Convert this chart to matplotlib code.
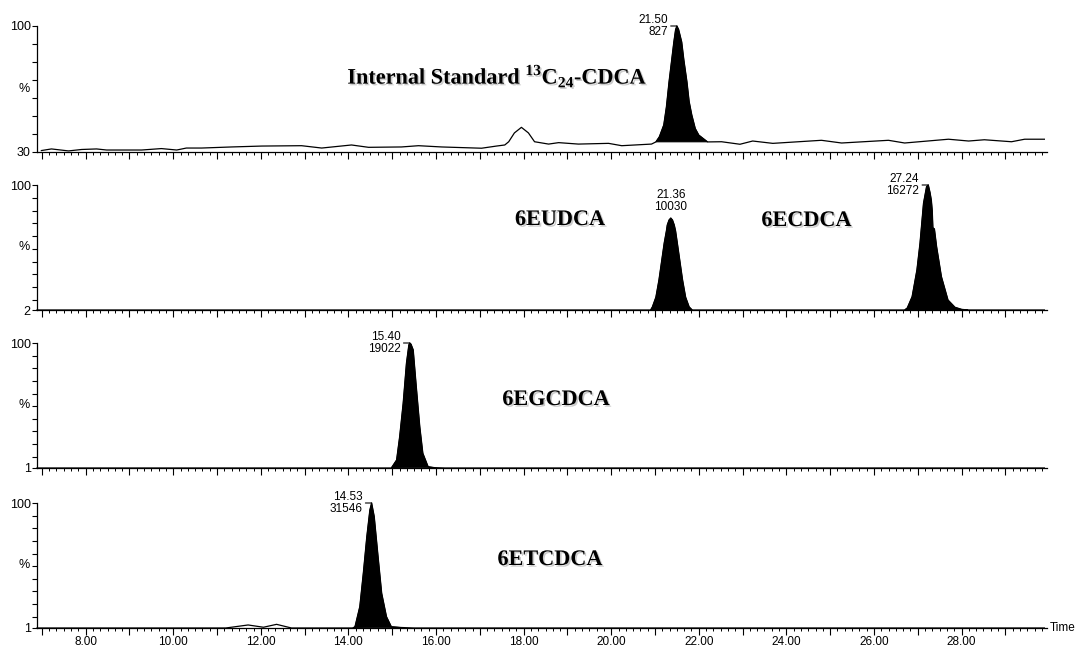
import matplotlib
matplotlib.use("Agg")
import matplotlib.pyplot as plt
import matplotlib.patheffects as pe
import numpy as np
from matplotlib.ticker import MultipleLocator, FixedLocator, FuncFormatter

plt.rcParams["font.family"] = ["Liberation Sans", "DejaVu Sans"]
plt.rcParams["mathtext.fontset"] = "custom"
plt.rcParams["mathtext.rm"] = "Liberation Serif:bold"
plt.rcParams["mathtext.bf"] = "Liberation Serif:bold"

# ---- traces (time in min, intensity in %) ----
is_time = [6.99, 7.22, 7.61, 7.91, 8.25, 8.48, 8.82, 9.28, 9.73, 10.08, 10.30, 10.65,
           11.33, 12.02, 12.93, 13.39, 14.07, 14.46, 15.21, 15.60, 16.13, 17.04, 17.38,
           17.57, 17.66, 17.79, 17.95, 18.11, 18.25, 18.57, 18.80, 19.25, 19.94, 20.24,
           20.92, 21.02, 21.10, 21.20, 21.26, 21.32, 21.38, 21.43, 21.47, 21.50, 21.54,
           21.61, 21.66, 21.73, 21.78, 21.84, 21.92, 22.00, 22.20, 22.52, 22.94, 23.23,
           23.69, 24.80, 25.26, 26.33, 26.70, 27.70, 28.16, 28.52, 29.14, 29.44, 29.89]
is_int = [30.8, 31.7, 30.6, 31.4, 31.7, 31.1, 31.1, 31.1, 31.9, 31.1, 32.2, 32.2,
          32.8, 33.3, 33.5, 32.2, 33.9, 32.6, 32.8, 33.5, 32.8, 32.1, 33.3,
          33.9, 35.7, 40.6, 43.7, 40.6, 35.7, 34.4, 35.2, 34.4, 34.8, 33.5,
          34.4, 35.6, 38.5, 45.0, 55.0, 68.9, 81.0, 91.1, 98.0, 100.0, 98.0,
          91.1, 81.0, 68.9, 58.0, 50.6, 43.0, 39.4, 35.6, 35.7, 34.3, 36.1,
          34.8, 36.5, 35.0, 36.5, 35.0, 37.1, 36.1, 36.8, 35.7, 37.1, 37.1]

eu_time = [6.89, 20.90, 20.94, 21.02, 21.09, 21.15, 21.21, 21.26, 21.28, 21.32, 21.36,
           21.40, 21.44, 21.47, 21.51, 21.57, 21.63, 21.70, 21.78, 21.85,
           26.70, 26.76, 26.87, 26.98, 27.05, 27.13, 27.20, 27.24, 27.28, 27.31, 27.33,
           27.345, 27.38, 27.43, 27.54, 27.69, 27.85, 28.00, 28.15, 29.89]
eu_int = [2.0, 2.0, 4.4, 12.0, 25.5, 40.0, 54.5, 64.0, 68.6, 72.5, 74.1,
          72.5, 68.6, 64.0, 54.5, 40.0, 25.5, 12.0, 4.4, 2.0,
          2.0, 3.6, 12.4, 33.4, 54.3, 85.6, 98.7, 100.0, 94.0, 88.0, 80.0,
          66.5, 65.5, 51.6, 28.1, 9.8, 4.1, 2.5, 2.0, 2.0]

g_time = [6.89, 14.98, 15.10, 15.17, 15.25, 15.325, 15.38, 15.40, 15.43, 15.48, 15.55,
          15.63, 15.70, 15.82, 15.96, 16.20, 29.89]
g_int = [1.0, 1.0, 7.3, 25.8, 52.2, 84.0, 98.4, 100.0, 99.0, 94.5, 65.4,
         33.7, 12.6, 2.0, 1.3, 1.0, 1.0]

t_time = [6.89, 11.20, 11.71, 12.06, 12.36, 12.70, 14.10, 14.15, 14.26, 14.34, 14.42,
          14.49, 14.53, 14.59, 14.67, 14.76, 14.87, 14.98, 15.20, 15.50, 29.89]
t_int = [1.0, 1.0, 3.4, 1.6, 3.9, 1.0, 1.0, 2.0, 17.9, 44.3, 73.3,
         94.5, 100.0, 89.2, 60.2, 28.5, 9.9, 2.0, 1.4, 1.0, 1.0]

# integrated (filled) peak windows
is_fill = [(21.02, 22.20)]
eu_fill = [(20.90, 21.85), (26.70, 28.15)]
g_fill = [(14.98, 15.96)]
t_fill = [(14.10, 15.20)]

# peak labels: time, value, retention-time text, area text, placement
is_peaks = [(21.50, 100.0, "21.50", "827", "left")]
eu_peaks = [(21.36, 74.1, "21.36", "10030", "above"), (27.24, 100.0, "27.24", "16272", "left")]
g_peaks = [(15.40, 100.0, "15.40", "19022", "left")]
t_peaks = [(14.53, 100.0, "14.53", "31546", "left")]

names = [r"Internal Standard $^{\mathrm{13}}\mathrm{C}_{\mathrm{24}}$-CDCA", "6EUDCA", "6EGCDCA", "6ETCDCA"]
y_bottoms = [30, 2, 1, 1]

fig = plt.figure(figsize=(10.79, 6.47), dpi=100)
W, H = 1079.0, 647.0
left, right = 37, 1047
panel_px = [(26, 152), (185, 310), (343, 468), (503, 628)]

panels = [
    (is_time, is_int, is_fill, is_peaks),
    (eu_time, eu_int, eu_fill, eu_peaks),
    (g_time, g_int, g_fill, g_peaks),
    (t_time, t_int, t_fill, t_peaks),
]
name_pos = [[(0.456, 0.60)], [(0.518, 0.72), (0.762, 0.712)], [(0.514, 0.544)], [(0.508, 0.544)]]
name_txt = [[names[0]], ["6EUDCA", "6ECDCA"], [names[2]], [names[3]]]

shadow = [pe.withSimplePatchShadow(offset=(1.2, -1.2), shadow_rgbFace="0.6", alpha=0.5)]

for i, (tt, vv, fills, peaks) in enumerate(panels):
    top, bot = panel_px[i]
    ax = fig.add_axes([left / W, 1 - bot / H, (right - left) / W, (bot - top) / H])
    t = np.array(tt)
    v = np.array(vv)
    ax.plot(t, v, color="black", lw=0.9, clip_on=False)
    for a, b in fills:
        m = (t >= a) & (t <= b)
        ax.fill(t[m], v[m], color="black", lw=0.6, clip_on=False)
    ax.set_xlim(6.89, 29.95)
    ax.set_ylim(y_bottoms[i], 100)
    for s in ["top", "right"]:
        ax.spines[s].set_visible(False)
    for s in ["left", "bottom"]:
        ax.spines[s].set_linewidth(0.9)

    ax.xaxis.set_major_locator(MultipleLocator(1))
    ax.xaxis.set_minor_locator(MultipleLocator(1 / 6))
    ax.xaxis.set_major_formatter(FuncFormatter(
        lambda x, p: f"{x:.2f}" if int(round(x)) % 2 == 0 else ""))
    ax.tick_params(axis="x", which="major", direction="out", length=5, width=0.8,
                   labelsize=8.5, labelbottom=(i == 3), pad=1)
    ax.tick_params(axis="x", which="minor", direction="out", length=2.5, width=0.7)

    yb = y_bottoms[i]
    yt = [yb] + [k for k in range(10, 101, 10) if k > yb]
    ax.yaxis.set_major_locator(FixedLocator(yt))
    ax.set_yticklabels([str(k) if k in (yb, 100) else "" for k in yt])
    ax.tick_params(axis="y", direction="out", length=3.5, width=0.8, labelsize=9, pad=1)
    # "%" sits half way up the axis
    ax.annotate("%", xy=(0, 0.5), xycoords="axes fraction", xytext=(-5, 0),
                textcoords="offset points", ha="right", va="center", fontsize=9)

    for (px, py), txt in zip(name_pos[i], name_txt[i]):
        ax.text(px, py, txt, transform=ax.transAxes, ha="center", va="center",
                fontsize=16, fontweight="bold", family="Liberation Serif",
                path_effects=shadow)

    for pt, pv, rt, area, where in peaks:
        if where == "left":
            ax.annotate(f"{rt}\n{area}", xy=(pt, pv), xytext=(-9, 0),
                        textcoords="offset pixels", ha="right", va="center",
                        fontsize=8.5, linespacing=0.95, multialignment="right",
                        arrowprops=dict(arrowstyle="-", lw=0.8, shrinkA=0, shrinkB=0,
                                        relpos=(1.0, 0.5), color="black"),
                        annotation_clip=False)
        else:
            ax.annotate(f"{rt}\n{area}", xy=(pt, pv), xytext=(0, 5),
                        textcoords="offset pixels", ha="center", va="bottom",
                        fontsize=8.5, linespacing=0.95, annotation_clip=False)

fig.text(1050 / W, 1 - 628 / H, "Time", ha="left", va="center", fontsize=8.5)

fig.savefig("out.png", dpi=100)
